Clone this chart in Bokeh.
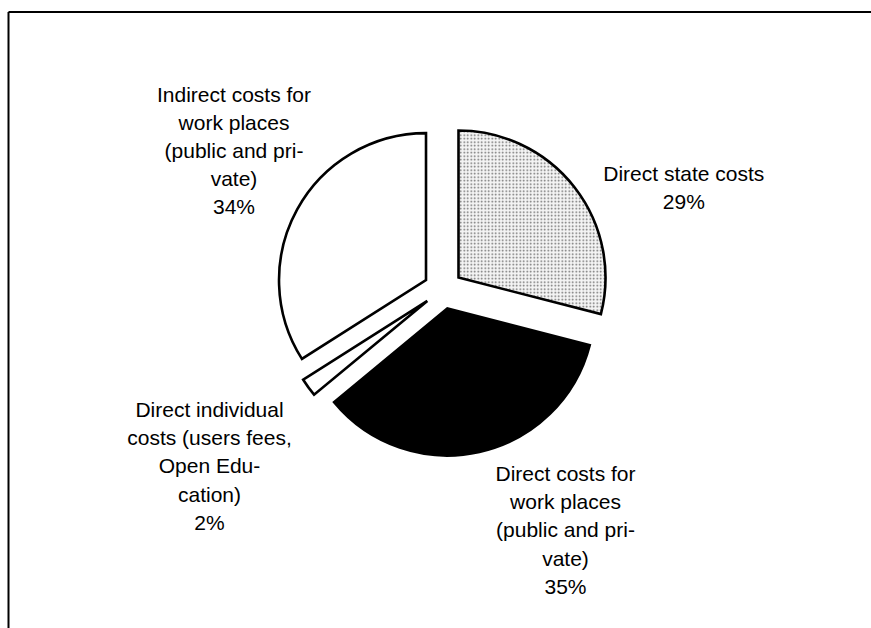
import math
from bokeh.plotting import figure
from bokeh.models import ColumnDataSource, Range1d
from bokeh.core.properties import value
from bokeh.embed import file_html
from bokeh.resources import INLINE

# ---- data ----
categories = [
    "Direct state costs",
    "Direct costs for work places (public and private)",
    "Direct individual costs (users fees, Open Education)",
    "Indirect costs for work places (public and private)",
]
shares = [29, 35, 2, 34]
label_texts = [
    "Direct state costs\n29%",
    "Direct costs for\nwork places\n(public and pri-\nvate)\n35%",
    "Direct individual\ncosts (users fees,\nOpen Edu-\ncation)\n2%",
    "Indirect costs for\nwork places\n(public and pri-\nvate)\n34%",
]

# ---- layout / style ----
W, H = 871, 628
cx, cy = 442.6, 339.0           # pie centre
R = 147.0                       # radius
EXPLODE = 19.5                  # explode distance
label_pos = [(683.3, 441.0), (565.0, 98.5), (209.0, 162.5), (233.5, 478.0)]
fills = ["#f4f4f4", "#000000", "#ffffff", "#ffffff"]
hatches = ["dot", " ", " ", " "]

total = float(sum(shares))
starts, ends, xs, ys = [], [], [], []
acc = 0.0
for s in shares:
    a0 = acc / total * 2 * math.pi          # clockwise from 12 o'clock
    a1 = (acc + s) / total * 2 * math.pi
    mid = (a0 + a1) / 2
    xs.append(cx + EXPLODE * math.sin(mid))
    ys.append(cy + EXPLODE * math.cos(mid))
    starts.append(math.pi / 2 - a0)
    ends.append(math.pi / 2 - a1)
    acc += s

src = ColumnDataSource(dict(x=xs, y=ys, start=starts, end=ends,
                            fill=fills, hatch=hatches, cat=categories))

p = figure(width=W, height=H, output_backend="svg", toolbar_location=None,
           x_range=Range1d(0, W), y_range=Range1d(0, H), min_border=0,
           background_fill_color="white", border_fill_color="white")
p.axis.visible = False
p.grid.visible = False
p.outline_line_color = None

p.wedge(x="x", y="y", radius=R, start_angle="start", end_angle="end",
        direction="clock", source=src, fill_color="fill",
        hatch_pattern="hatch", hatch_color="#6a6a6a", hatch_scale=3.5,
        hatch_weight=1.0, line_color="black", line_width=2.6,
        line_join="miter")

# frame border (left and top only, as in the scanned original)
left_x = 8.0
top_y = H - 11.5
p.segment(x0=[left_x, left_x], y0=[0, top_y], x1=[left_x, W], y1=[top_y, top_y],
          line_color="black", line_width=2)

lsrc = ColumnDataSource(dict(x=[q[0] for q in label_pos],
                             y=[q[1] for q in label_pos], t=label_texts))
p.text(x="x", y="y", text="t", source=lsrc, text_align="center",
       text_baseline="middle", text_font=value("Liberation Sans"),
       text_font_size="21px", text_line_height=1.22, text_color="black")

open("out.html", "w").write(file_html(p, INLINE))
